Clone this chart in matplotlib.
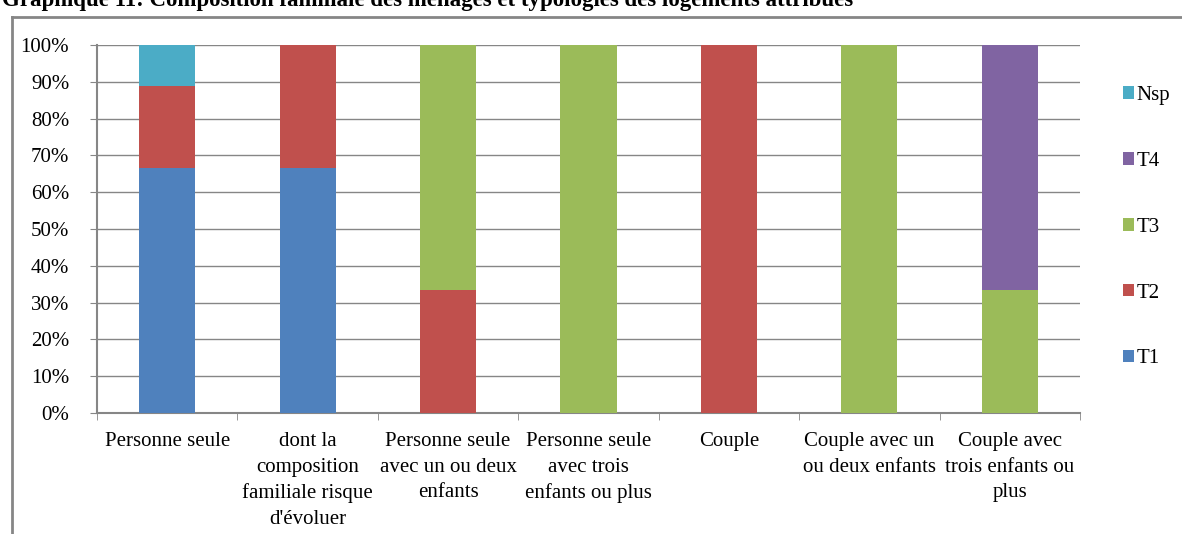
import matplotlib.pyplot as plt
import numpy as np
from matplotlib.lines import Line2D

categories = [
    "Personne seule",
    "dont la\ncomposition\nfamiliale risque\nd'évoluer",
    "Personne seule\navec un ou deux\nenfants",
    "Personne seule\navec trois\nenfants ou plus",
    "Couple",
    "Couple avec un\nou deux enfants",
    "Couple avec\ntrois enfants ou\nplus",
]
series = ["T1", "T2", "T3", "T4", "Nsp"]
t1 = [66.7, 66.7, 0, 0, 0, 0, 0]
t2 = [22.2, 33.3, 33.3, 0, 100, 0, 0]
t3 = [0, 0, 66.7, 100, 0, 100, 33.3]
t4 = [0, 0, 0, 0, 0, 0, 66.7]
nsp = [11.1, 0, 0, 0, 0, 0, 0]
colors = ["#4f81bd", "#c0504d", "#9bbb59", "#8064a2", "#4bacc6"]

plt.rcParams['font.family'] = ['Liberation Serif', 'DejaVu Serif']

W, H = 1182, 534
fig = plt.figure(figsize=(W / 100, H / 100), dpi=100)
ax = fig.add_axes([97 / W, 1 - 413 / H, (1080 - 97) / W, (413 - 45) / H])

x = np.arange(len(categories))
bottom = np.zeros(len(categories))
for name, vals, col in zip(series, [t1, t2, t3, t4, nsp], colors):
    vals = np.array(vals)
    ax.bar(x, vals, 0.4, bottom=bottom, color=col, label=name, zorder=3)
    bottom += vals

ax.set_xlim(-0.5, len(categories) - 0.5)
ax.set_ylim(0, 100)
ax.set_yticks(np.arange(0, 101, 10))
ax.set_yticklabels([f"{v}%" for v in range(0, 101, 10)], fontsize=15)
ax.yaxis.grid(True, color="#868686", linewidth=1, zorder=0)
ax.set_xticks(x)
ax.set_xticklabels(categories, fontsize=15, linespacing=1.45)
ax.set_xticks(np.arange(-0.5, len(categories)), minor=True)
ax.tick_params(axis="x", which="major", length=0, pad=14)
ax.tick_params(axis="x", which="minor", length=5, color="#868686")
ax.tick_params(axis="y", length=5, color="#868686", pad=15)
for s in ["top", "right"]:
    ax.spines[s].set_visible(False)
for s in ["left", "bottom"]:
    ax.spines[s].set_color("#868686")
    ax.spines[s].set_linewidth(1.5)

handles, labels = ax.get_legend_handles_labels()
ax.legend(handles[::-1], labels[::-1], loc="center left", bbox_to_anchor=(1.025, 0.505),
          frameon=False, fontsize=15, labelspacing=2.25, handlelength=0.5,
          handleheight=0.55, handletextpad=0.15)

# outer frame of the chart
fig.add_artist(Line2D([12 / W, 12 / W], [0, 1 - 17 / H], color="#868686", lw=2))
fig.add_artist(Line2D([12 / W, 1], [1 - 17 / H, 1 - 17 / H], color="#868686", lw=2))

fig.text(2 / W, 1 - 6 / H,
         "Graphique 11: Composition familiale des ménages et typologies des logements attribués",
         fontsize=16.5, fontweight="bold", va="baseline", ha="left")

fig.savefig("out.png", dpi=100)
